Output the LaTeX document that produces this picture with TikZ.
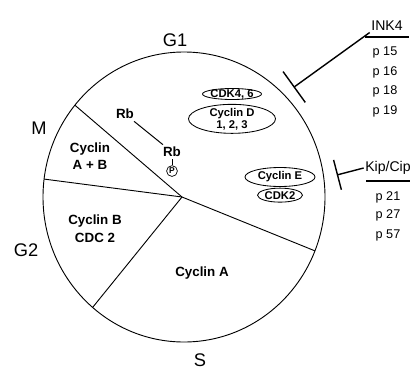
\documentclass[tikz,border=0pt]{standalone}
\usepackage{fontspec}
\setmainfont{Liberation Sans}
\usetikzlibrary{arrows.meta, positioning, shapes.geometric, calc}
\tikzset{
  phase/.style = {font=\fontsize{13}{15}\selectfont, inner sep=0pt},
  lbl/.style   = {font=\fontsize{9.5}{12.5}\selectfont\bfseries, align=center, inner sep=1.5pt},
  cplx/.style  = {ellipse, draw, line width=0.6pt, inner sep=0pt, align=center,
                  font=\fontsize{8}{8.5}\selectfont\bfseries},
  inh/.style   = {font=\fontsize{9}{10}\selectfont, inner sep=1pt},
  block/.style = {-{Bar[width=#1]}, line width=1pt},
  rim/.style   = {line width=0.65pt},
}

\begin{document}
\begin{tikzpicture}
  \useasboundingbox (0,0) rectangle (10.275,9.225);
  % cell cycle wheel
  \coordinate (c) at (4.6,4.3);
  \coordinate (o) at (4.55,4.3);
  \draw[rim] (c) ellipse [x radius=3.525, y radius=3.625];
  \foreach \a in {140.7, 172.9, 229.6, -21.8}
    \draw[rim] (o) -- ($(c)+(\a:3.525 and 3.625)$);

  % phases
  \node[phase] (g1) at (4.375,8.225) {G1};
  \node[phase] (m)  at (0.975,6.025) {M};
  \node[phase] (g2) at (0.65,2.975)  {G2};
  \node[phase] (s)  at (5.0,0.225)   {S};

  % sectors
  \node[lbl] (cyca)  at (5.05,2.4)   {Cyclin A};
  \node[lbl] (cycab) at (2.25,5.325) {Cyclin\\A + B};
  \node[lbl] (cycb)  at (2.375,3.5)  {Cyclin B\\CDC 2};

  % Rb phosphorylation
  \node[lbl] (rb)  at (3.125,6.375) {Rb};
  \node[lbl] (rbp) at (4.3,5.425)   {Rb};
  \node[circle, draw, line width=0.5pt, minimum size=0.27cm, inner sep=0pt,
        font=\fontsize{6}{6}\selectfont\bfseries, below=0.15cm of rbp] (p) {P};
  \draw[line width=0.7pt] (rb) -- (rbp);
  \draw[line width=0.6pt] (rbp) -- (p);

  % complexes
  \node[cplx, inner sep=-1pt, minimum width=1.475cm, minimum height=0.275cm] (cdk46)
    at (5.8,6.875) {CDK4, 6};
  \node[cplx, inner sep=-1pt, minimum width=2.175cm, minimum height=0.725cm,
        below=0.1cm of cdk46] (cycd) {Cyclin D\\1, 2, 3};
  \node[cplx, minimum width=1.75cm, minimum height=0.475cm] (cyce) at (7.0,4.8) {Cyclin E};
  \node[cplx, minimum width=1.125cm, minimum height=0.35cm, below=0.02cm of cyce] (cdk2) {CDK2};

  % inhibitors
  \node[inh, font=\fontsize{10}{11}\selectfont] (ink4) at (9.675,8.575) {INK4};
  \draw[line width=0.8pt] (9.125,8.3) -- (10.225,8.3);
  \foreach \p/\y in {15/7.925, 16/7.425, 18/6.95, 19/6.45}
    \node[inh] (p\p) at (9.625,\y) {p \p};
  \coordinate (inkbar) at (7.34,7.04);
  \draw[block=0.95cm] (ink4.south west) -- (inkbar);

  \node[inh, font=\fontsize{10}{11}\selectfont] (kip) at (9.7,5.025) {Kip/Cip};
  \draw[line width=0.8pt] (9.15,4.7) -- (10.25,4.7);
  \foreach \p/\y in {21/4.3, 27/3.85, 57/3.35}
    \node[inh] (p\p) at (9.7,\y) {p \p};
  \coordinate (kipbar) at (8.42,4.85);
  \draw[block=0.77cm] (kip.west) -- (kipbar);
\end{tikzpicture}
\end{document}
